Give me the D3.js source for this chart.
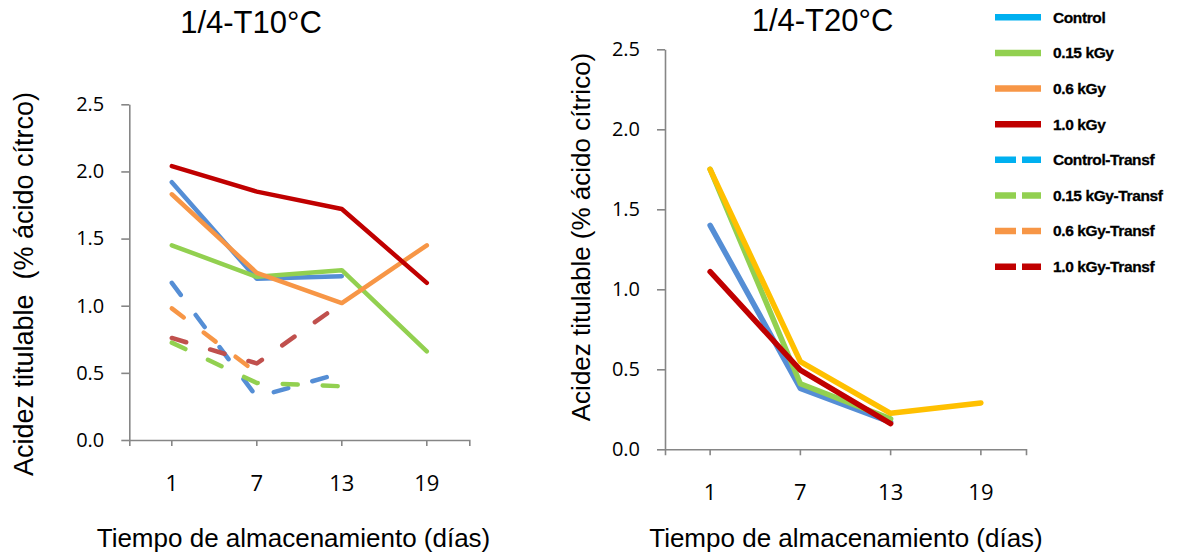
<!DOCTYPE html>
<html>
<head>
<meta charset="utf-8">
<script src="https://cdn.jsdelivr.net/npm/d3@7"></script>
<style>
  html, body { margin: 0; padding: 0; background: #fff; }
  svg { display: block; }
</style>
</head>
<body>
<svg id="chart" width="1177" height="554"></svg>
<script>
// ---------- DATA ----------
const days = ["1", "7", "13", "19"];
const yTicks = [0, 0.5, 1.0, 1.5, 2.0, 2.5];

// 1/4-T10°C (left panel)
const t10Control       = [1.92, 1.20, 1.22, null];
const t10Gy015         = [1.45, 1.215, 1.265, 0.66];
const t10Gy06          = [1.83, 1.245, 1.02, 1.45];
const t10Gy10          = [2.04, 1.85, 1.72, 1.17];
const t10ControlTransf = [1.17, 0.32, 0.50, null];
const t10Gy015Transf   = [0.725, 0.425, 0.40, null];
const t10Gy06Transf    = [0.98, 0.50, null, null];
const t10Gy10Transf    = [0.76, 0.57, 1.02, null];

// 1/4-T20°C (right panel)
const t20Control = [1.40, 0.38, 0.17, null];
const t20Gy015   = [1.75, 0.41, 0.19, null];
const t20Gy06    = [1.75, 0.548, 0.225, 0.29];
const t20Gy10    = [1.11, 0.495, 0.16, null];

const legendNames = ["Control", "0.15 kGy", "0.6 kGy", "1.0 kGy",
  "Control-Transf", "0.15 kGy-Transf", "0.6 kGy-Transf", "1.0 kGy-Transf"];
const legendColors = ["#00B0F0", "#92D050", "#F79646", "#C00000",
  "#00B0F0", "#92D050", "#F79646", "#C00000"];
const legendDashed = [false, false, false, false, true, true, true, true];

// ---------- DRAW ----------
const svg = d3.select("#chart");
const AXIS = "#868686";
const TITLE_FONT = "'Liberation Sans', Arial, sans-serif";
const TICK_FONT = "'Open Sans', 'Liberation Sans', sans-serif";

function panel(cfg) {
  const x = d3.scaleBand().domain(days).range([cfg.x0, cfg.x1]).padding(0);
  const y = d3.scaleLinear().domain([0, 2.5]).range([cfg.y0, cfg.y1]);
  const g = svg.append("g");

  // Y axis
  const ya = g.append("g")
    .attr("transform", `translate(${cfg.x0},0)`)
    .call(d3.axisLeft(y).tickValues(yTicks).tickFormat(d3.format(".1f"))
      .tickSize(8).tickSizeOuter(0).tickPadding(17));
  ya.select(".domain").attr("stroke", AXIS).attr("stroke-width", 1.6);
  ya.selectAll(".tick line").attr("stroke", AXIS).attr("stroke-width", 1.6);
  ya.selectAll(".tick text").attr("fill", "#000")
    .style("font-family", TICK_FONT).style("font-size", "20px");

  // X axis
  const xa = g.append("g")
    .attr("transform", `translate(0,${cfg.y0})`)
    .call(d3.axisBottom(x).tickSize(6).tickSizeOuter(6));
  xa.select(".domain").attr("stroke", AXIS).attr("stroke-width", 1.6);
  xa.selectAll(".tick line").attr("stroke", AXIS).attr("stroke-width", 1.6);
  xa.selectAll(".tick text").attr("fill", "#000")
    .attr("y", cfg.xLabelY - cfg.y0).attr("dy", "0.36em")
    .style("font-family", TICK_FONT).style("font-size", "22px");

  // Lines
  const line = d3.line()
    .defined(d => d != null)
    .x((d, i) => x(days[i]) + x.bandwidth() / 2)
    .y(d => y(d));
  cfg.series.forEach(s => {
    g.append("path")
      .attr("d", line(s.values))
      .attr("fill", "none")
      .attr("stroke", s.color)
      .attr("stroke-width", cfg.lw)
      .attr("stroke-linejoin", "round")
      .attr("stroke-linecap", "round")
      .attr("stroke-dasharray", s.dashed ? "15,25" : null);
  });

  // Titles
  g.append("text").text(cfg.title)
    .attr("x", cfg.titleX).attr("y", cfg.titleY)
    .attr("text-anchor", "middle")
    .style("font-family", TITLE_FONT).style("font-size", "31px").attr("fill", "#000");
  g.append("text").text("Tiempo de almacenamiento (días)")
    .attr("x", cfg.xTitleX).attr("y", 547)
    .attr("text-anchor", "middle")
    .style("font-family", TITLE_FONT).style("font-size", "26px").attr("fill", "#000");
  g.append("text").text(cfg.yTitle)
    .attr("transform", `translate(${cfg.yTitleX},${cfg.yTitleY}) rotate(-90)`)
    .attr("text-anchor", "middle")
    .style("font-family", TITLE_FONT).style("font-size", cfg.yTitleSize).attr("fill", "#000")
    .style("white-space", "pre");
}

panel({
  x0: 129.3, x1: 469.3, y0: 440, y1: 104.3, lw: 4.5, xLabelY: 483.3,
  title: "1/4-T10°C", titleX: 251, titleY: 33,
  xTitleX: 293.5, yTitle: "Acidez titulable  (% ácido cítrco)", yTitleX: 33, yTitleY: 284,
  yTitleSize: "27px",
  series: [
    { values: t10Control, color: "#558ED5" },
    { values: t10Gy015, color: "#92D050" },
    { values: t10Gy06, color: "#F79646" },
    { values: t10Gy10, color: "#C00000" },
    { values: t10ControlTransf, color: "#558ED5", dashed: true },
    { values: t10Gy015Transf, color: "#92D050", dashed: true },
    { values: t10Gy06Transf, color: "#F79646", dashed: true },
    { values: t10Gy10Transf, color: "#C0504D", dashed: true }
  ]
});

panel({
  x0: 665, x1: 1026, y0: 449.3, y1: 49.3, lw: 5.5, xLabelY: 491.7,
  title: "1/4-T20°C", titleX: 822.5, titleY: 31,
  xTitleX: 846, yTitle: "Acidez titulable (% ácido cítrico)", yTitleX: 590, yTitleY: 237,
  yTitleSize: "26px",
  series: [
    { values: t20Control, color: "#558ED5" },
    { values: t20Gy015, color: "#92D050" },
    { values: t20Gy06, color: "#FFC000" },
    { values: t20Gy10, color: "#C00000" }
  ]
});

// Legend
const legY = d3.scaleLinear().domain([0, 7]).range([17.3, 266.7]);
const leg = svg.append("g");
legendNames.forEach((name, i) => {
  const yy = legY(i);
  leg.append("line").attr("x1", 995).attr("x2", 1041).attr("y1", yy).attr("y2", yy)
    .attr("stroke", legendColors[i]).attr("stroke-width", 6.5)
    .attr("stroke-dasharray", legendDashed[i] ? "21,6" : null);
  leg.append("text").text(name)
    .attr("x", 1053).attr("y", yy).attr("dy", "0.35em")
    .style("font-family", TITLE_FONT).style("font-size", "15.5px")
    .style("font-weight", "bold").style("letter-spacing", "-0.4px")
    .attr("fill", "#000").attr("stroke", "#000").attr("stroke-width", 0.3);
});
</script>
</body>
</html>
